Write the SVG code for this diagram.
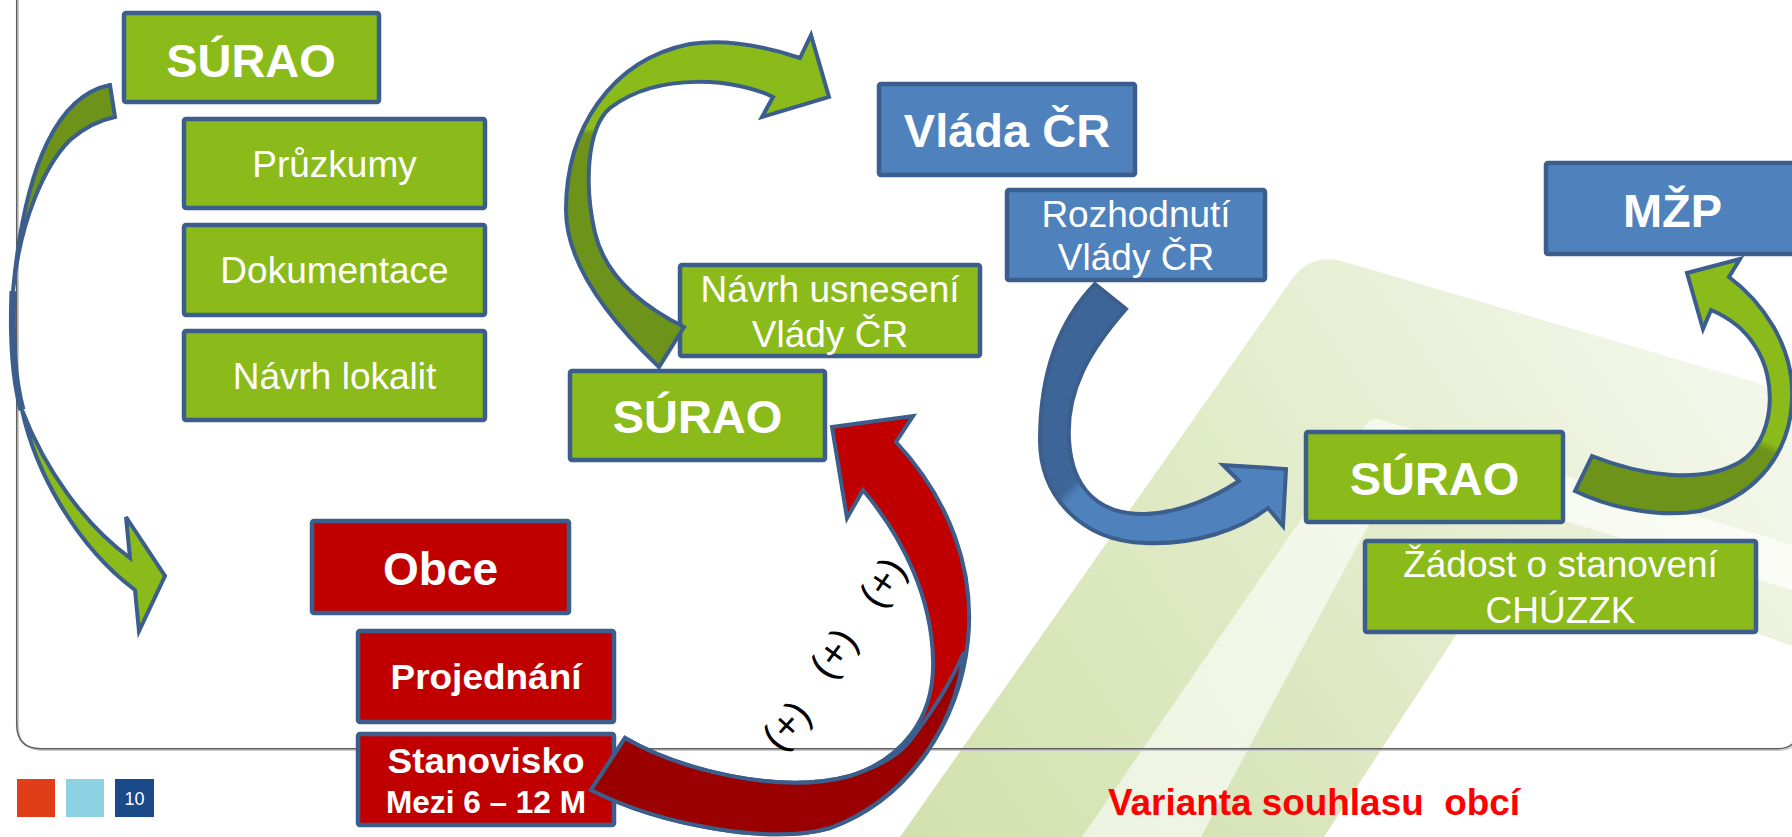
<svg xmlns="http://www.w3.org/2000/svg" width="1792" height="837" viewBox="0 0 1792 837">
<defs>
<style>
.box{stroke:#3B5E8C;stroke-width:4.5}
.g{fill:#8BBA1B}
.b{fill:#4F81BD}
.r{fill:#C00000}
.t{font-family:"Liberation Sans",Arial,sans-serif;fill:#fff;text-anchor:middle}
.tb{font-weight:bold;font-size:47px}
.tr{font-size:37px}
.arr{stroke:#3B5E8C;stroke-width:4;stroke-linejoin:miter}
.pl{font-family:"Liberation Sans",Arial,sans-serif;font-size:40px;fill:#000;text-anchor:middle}
</style>
<linearGradient id="gA" gradientUnits="userSpaceOnUse" x1="900" y1="837" x2="1700" y2="300">
<stop offset="0" stop-color="#D2E1AC"/><stop offset="0.5" stop-color="#E1EBC8"/><stop offset="1" stop-color="#F3F7EB"/>
</linearGradient>
<linearGradient id="gB" gradientUnits="userSpaceOnUse" x1="1082" y1="837" x2="1700" y2="450">
<stop offset="0" stop-color="#EDF3E0"/><stop offset="1" stop-color="#FAFCF5"/>
</linearGradient>
<linearGradient id="gC" gradientUnits="userSpaceOnUse" x1="1200" y1="837" x2="1700" y2="480">
<stop offset="0" stop-color="#D6E3B6"/><stop offset="1" stop-color="#EEF3E0"/>
</linearGradient>
<linearGradient id="gMid" gradientUnits="userSpaceOnUse" x1="0" y1="118" x2="0" y2="145">
<stop offset="0.4" stop-color="#8BBA1B"/><stop offset="0.6" stop-color="#6E931A"/>
</linearGradient>
<linearGradient id="gBlue" gradientUnits="userSpaceOnUse" x1="1058" y1="468" x2="1095" y2="505">
<stop offset="0.4" stop-color="#3E6597"/><stop offset="0.6" stop-color="#4F81BD"/>
</linearGradient>
<linearGradient id="gRight" gradientUnits="userSpaceOnUse" x1="1775" y1="425" x2="1755" y2="465">
<stop offset="0.4" stop-color="#8BBA1B"/><stop offset="0.6" stop-color="#6E931A"/>
</linearGradient>
</defs>

<rect x="0" y="0" width="1792" height="837" fill="#fff"/>

<g id="background">
<path d="M900,837 L1292,279 Q1312,252 1345,262 L1792,393 L1792,837 Z" fill="url(#gA)"/>
<path d="M1082,837 L1366,425 Q1372,416 1382,420 L1792,545 L1792,837 Z" fill="url(#gB)"/>
<path d="M1201,837 L1398,470 L1792,590 L1792,837 Z" fill="url(#gC)"/>
<path d="M1324,837 L1515,545 L1792,646 L1792,837 Z" fill="#fff"/>
</g>

<g id="frame">
<path d="M18.2,-5 V725.5 Q18.2,750.2 42.5,750.2 H1779 Q1798,750.2 1798,731" fill="none" stroke="#C8C8C8" stroke-width="1.5"/>
<path d="M16.7,-5 V724 Q16.7,748.7 41,748.7 H1778 Q1797,748.7 1797,730 V-5" fill="none" stroke="#5E5E5E" stroke-width="1.5"/>
</g>

<g id="surao1"><rect class="box g" x="124" y="13" width="255" height="89" rx="2"/><text class="t tb" x="251" y="77">SÚRAO</text></g>
<g id="pruzkumy"><rect class="box g" x="184" y="119" width="301" height="89" rx="2"/><text class="t tr" x="334.5" y="177">Průzkumy</text></g>
<g id="dokumentace"><rect class="box g" x="184" y="225" width="301" height="90" rx="2"/><text class="t tr" x="334.5" y="283">Dokumentace</text></g>
<g id="navrh-lokalit"><rect class="box g" x="184" y="331" width="301" height="89" rx="2"/><text class="t tr" x="334.5" y="389">Návrh lokalit</text></g>

<g id="obce"><rect class="box r" x="312" y="521" width="257" height="92" rx="2"/><text class="t" x="440.5" y="585" font-weight="bold" font-size="46">Obce</text></g>
<g id="projednani"><rect class="box r" x="358" y="631" width="256" height="91" rx="2"/><text class="t" x="486" y="689" font-weight="bold" font-size="35" textLength="191" lengthAdjust="spacingAndGlyphs">Projednání</text></g>
<g id="stanovisko"><rect class="box r" x="358" y="734" width="256" height="91" rx="2"/><text class="t" x="486" y="773" font-weight="bold" font-size="35" textLength="197" lengthAdjust="spacingAndGlyphs">Stanovisko</text><text class="t" x="486" y="813" font-weight="bold" font-size="31" textLength="200" lengthAdjust="spacingAndGlyphs">Mezi 6 – 12 M</text></g>

<g id="surao2"><rect class="box g" x="570" y="371" width="255" height="89" rx="2"/><text class="t tb" x="697.5" y="433">SÚRAO</text></g>
<g id="navrh-usneseni"><rect class="box g" x="680" y="265" width="300" height="91" rx="2"/><text class="t tr" x="830" y="302">Návrh usnesení</text><text class="t tr" x="830" y="347">Vlády ČR</text></g>

<g id="vlada"><rect class="box b" x="879" y="84" width="256" height="91" rx="2"/><text class="t tb" x="1007" y="147">Vláda ČR</text></g>
<g id="rozhodnuti"><rect class="box b" x="1007" y="190" width="258" height="90" rx="2"/><text class="t tr" x="1136" y="227">Rozhodnutí</text><text class="t tr" x="1136" y="270">Vlády ČR</text></g>

<g id="mzp"><rect class="box b" x="1546" y="163" width="256" height="91" rx="2"/><text class="t tb" x="1672.5" y="227">MŽP</text></g>
<g id="surao3"><rect class="box g" x="1306" y="432" width="257" height="90" rx="2"/><text class="t tb" x="1434.5" y="495">SÚRAO</text></g>
<g id="zadost"><rect class="box g" x="1365" y="541" width="391" height="91" rx="2"/><text class="t tr" x="1560.5" y="577">Žádost o stanovení</text><text class="t tr" x="1560.5" y="623">CHÚZZK</text></g>

<g id="connectors">
<g id="arrow-left">
<path class="arr" fill="#6E931A" d="M110,85 C60,95 25,160 13,291 C20,220 45,165 70,140 C85,127 100,120 115,117 Z"/>
<path d="M13,291 C11,340 14,380 22,410" fill="none" stroke="#3B5E8C" stroke-width="7"/>
<path class="arr" fill="#8BBA1B" d="M22,410 C35,470 75,545 135,590 L139,631 L165,576 L126,517 L130,558 C85,525 45,470 22,410 Z"/>
</g>
<path id="arrow-mid" class="arr" fill="url(#gMid)" d="M800,58 L811,35 L829,97 L762,117 L773,97 C740,80 660,70 610,108 C585,130 585,190 595,233 C605,275 640,305 684,327 L659,367 C620,330 566,270 566,210 C566,130 610,60 690,44 C730,38 770,48 800,58 Z"/>
<path id="arrow-blue" class="arr" fill="url(#gBlue)" d="M1095,284 L1126,309 C1090,350 1066,390 1069,440 C1072,490 1100,515 1145,514 C1180,513 1215,497 1239,481 L1223,465 L1286,469 L1283,526 L1268,508 C1240,530 1195,545 1145,543 C1080,541 1040,495 1040,440 C1040,370 1060,320 1095,284 Z"/>
<path id="arrow-right" class="arr" fill="url(#gRight)" d="M1592,456 C1640,475 1700,485 1740,462 C1775,440 1778,380 1755,346 C1745,330 1730,318 1711,310 L1703,329 L1687,273 L1740,259 L1729,277 C1760,300 1795,345 1792,400 C1790,450 1760,495 1700,511 C1660,518 1610,508 1575,491 Z"/>
<g id="arrow-red">
<path class="arr" fill="#C00000" d="M625,738 C680,770 780,795 850,776 C900,760 935,720 933,660 C932,600 905,540 863,490 L847,518 L832,427 L913,416 L896,442 C950,500 975,570 968,640 C960,720 910,800 830,828 C770,845 660,825 591,790 Z"/>
<path class="arr" fill="#9B0000" d="M625,738 C680,770 780,795 850,776 C880,766 900,755 912,738 C932,712 950,685 964,652 C955,730 905,800 830,828 C770,845 660,825 591,790 Z"/>
</g>
<text class="pl" transform="translate(786,725) rotate(-48)" dy="14">(+)</text>
<text class="pl" transform="translate(833,653) rotate(-54)" dy="14">(+)</text>
<text class="pl" transform="translate(882,582) rotate(-56)" dy="14">(+)</text>
</g>

<g id="footer">
<rect x="17" y="779" width="38" height="38" fill="#E23D19"/>
<rect x="66" y="779" width="38" height="38" fill="#8DD1E3"/>
<rect x="115" y="779" width="39" height="38" fill="#1A4A8A"/>
<text x="134.5" y="804.5" font-family="Liberation Sans, Arial, sans-serif" font-size="18" fill="#fff" text-anchor="middle">10</text>
</g>

<text id="caption" x="1314" y="815" font-family="Liberation Sans, Arial, sans-serif" font-weight="bold" font-size="36" fill="#FF0000" text-anchor="middle" xml:space="preserve" style="white-space:pre" textLength="412" lengthAdjust="spacingAndGlyphs">Varianta souhlasu  obcí</text>
</svg>
